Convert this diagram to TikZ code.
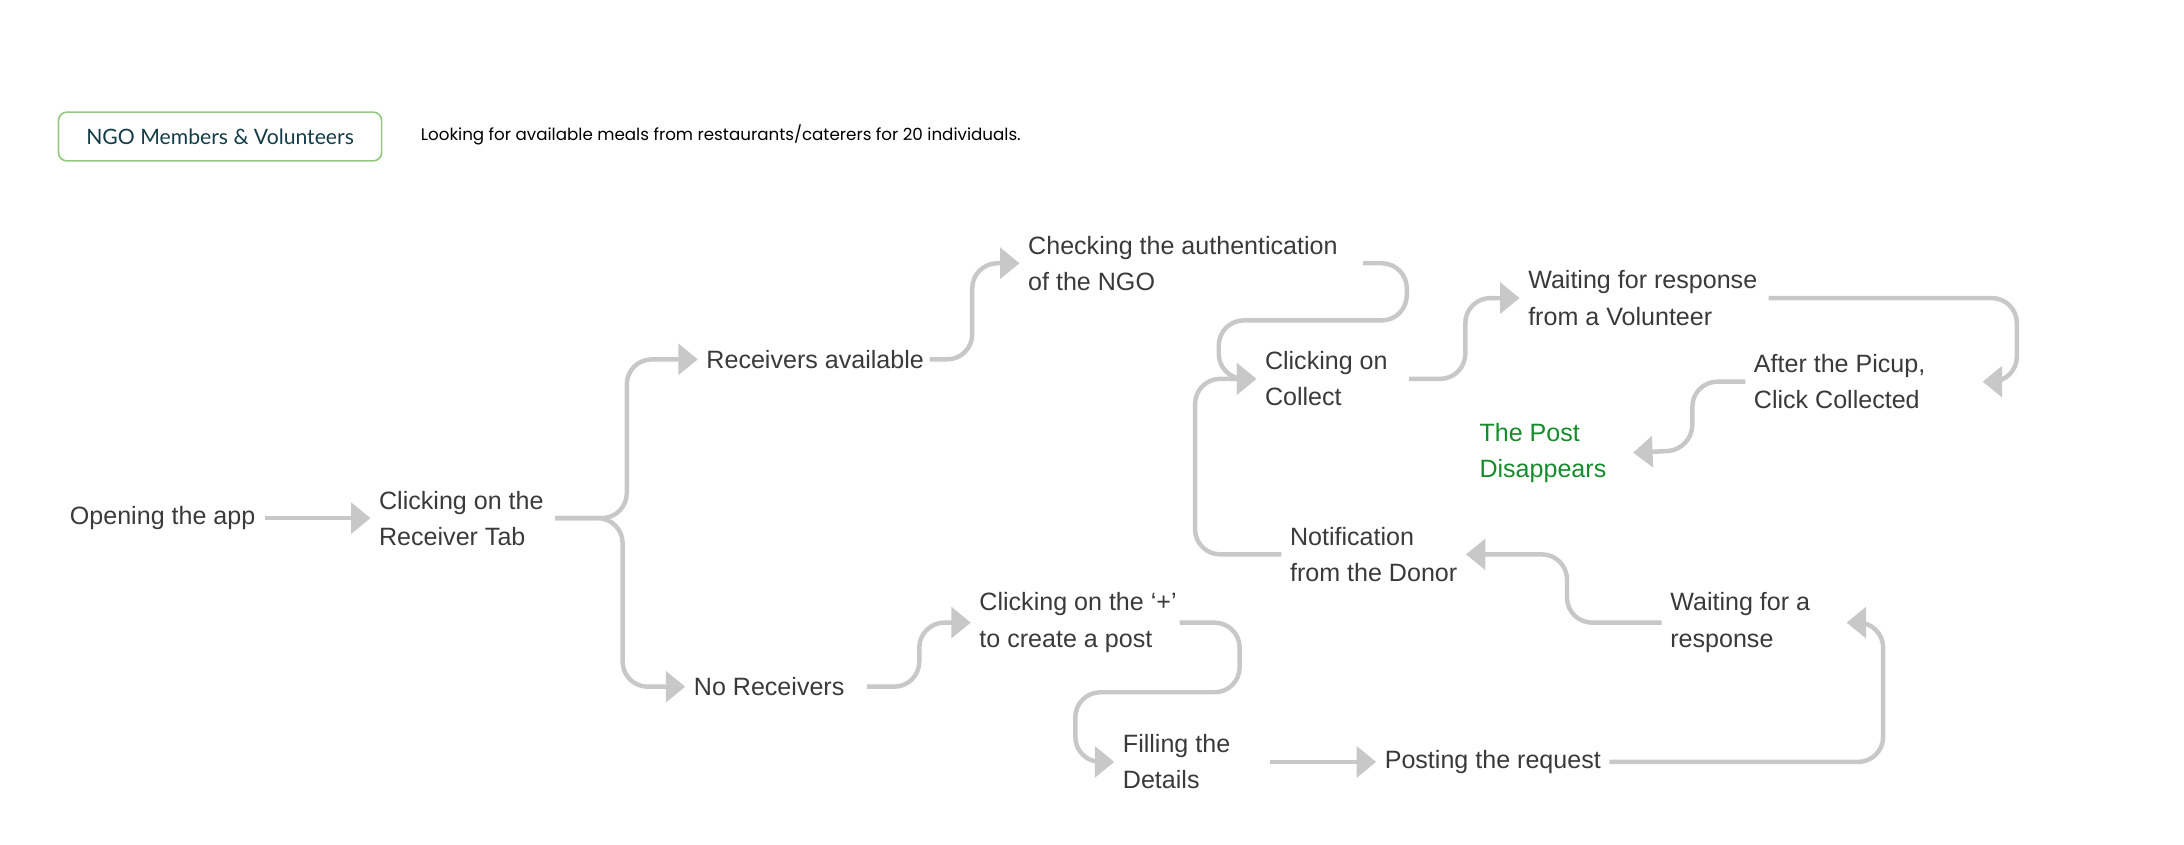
\documentclass[tikz,border=0pt]{standalone}
\usepackage{fontspec}
\setmainfont{Liberation Sans}
\newfontfamily\popfont{Poppins}
\newfontfamily\tagfont{Lato}
\usetikzlibrary{arrows.meta}

\definecolor{flowgray}{RGB}{200,200,200}
\definecolor{textgray}{RGB}{58,58,58}
\definecolor{postgreen}{RGB}{22,140,44}
\definecolor{boxgreen}{RGB}{150,200,130}
\definecolor{boxtext}{RGB}{20,60,70}

\begin{document}
\begin{tikzpicture}[x=1pt, y=-1pt,
    stage/.style={anchor=west, inner sep=0pt, align=left, text=textgray,
        font=\fontsize{18}{26}\selectfont},
    flow/.style={draw=flowgray, line width=3.2pt, rounded corners=18pt,
        -{Triangle[length=14pt, width=22pt]}},
]
    \useasboundingbox (0,0) rectangle (1568,606);

    % header
    \node[draw=boxgreen, line width=1.2pt, rounded corners=6pt, minimum width=232pt,
        minimum height=35pt, text=boxtext, font=\tagfont\fontsize{15.2}{18}\selectfont]
        (who) at (158,98) {NGO Members \& Volunteers};
    \node[anchor=west, inner sep=0pt, font=\popfont\fontsize{12}{14}\selectfont]
        (goal) at (302,97) {Looking for available meals from restaurants/caterers for 20 individuals.};

    % steps
    \node[stage] (open)    at (50,372)   {Opening the app};
    \node[stage] (tab)     at (272,372)  {Clicking on the\\Receiver Tab};
    \node[stage] (avail)   at (507,258)  {Receivers available};
    \node[stage] (auth)    at (738,189)  {Checking the authentication\\of the NGO};
    \node[stage] (collect) at (908,272)  {Clicking on\\Collect};
    \node[stage] (wait)    at (1097,214) {Waiting for response\\from a Volunteer};
    \node[stage] (picup)   at (1259,274) {After the Picup,\\Click Collected};
    \node[stage, text=postgreen] (gone) at (1062,325) {The Post\\Disappears};
    \node[stage] (norec)   at (498,493)  {No Receivers};
    \node[stage] (plus)    at (703,447)  {Clicking on the `+'\\to create a post};
    \node[stage] (fill)    at (806,547)  {Filling the\\Details};
    \node[stage] (post)    at (994,547)  {Posting the request};
    \node[stage] (waitr)   at (1199,447) {Waiting for a\\response};
    \node[stage] (notif)   at (926,398)  {Notification\\from the Donor};

    % connectors
    \draw[flow] ([xshift=7pt]open.east) -- ([xshift=-6pt]tab.west);
    \draw[flow] ([xshift=8pt]tab.east) -- (450,372) -- (450,258) -- ([xshift=-6pt]avail.west);
    \draw[flow] ([xshift=8pt]tab.east) -- (447,372) -- (447,493) -- ([xshift=-6pt]norec.west);
    \draw[flow] ([xshift=4pt]avail.east) -- (698,258) -- (698,189) -- ([xshift=-6pt]auth.west);
    \draw[flow] ([xshift=18pt]auth.east) -- (1010,189) -- (1010,230) -- (875,230) -- (875,272) -- ([xshift=-6pt]collect.west);
    \draw[flow] ([xshift=15pt]collect.east) -- (1052,272) -- (1052,214) -- ([xshift=-6pt]wait.west);
    \draw[flow] ([xshift=8pt]wait.east) -- (1448,214) -- (1448,274) -- ([xshift=41pt]picup.east);
    \draw[flow] ([xshift=-6pt]picup.west) -- (1215,274) -- (1215,323) -- ([xshift=19pt]gone.east);
    \draw[flow] ([xshift=16pt]norec.east) -- (660,493) -- (660,447) -- ([xshift=-6pt]plus.west);
    \draw[flow] ([xshift=2pt]plus.east) -- (890,447) -- (890,497) -- (772,497) -- (772,547) -- ([xshift=-6pt]fill.west);
    \draw[flow] ([xshift=28pt]fill.east) -- ([xshift=-6pt]post.west);
    \draw[flow] ([xshift=6pt]post.east) -- (1352,547) -- (1352,447) -- ([xshift=26pt]waitr.east);
    \draw[flow] ([xshift=-6pt]waitr.west) -- (1125,447) -- (1125,398) -- ([xshift=6pt]notif.east);
    \draw[flow] ([xshift=-6pt]notif.west) -- (858,398) -- (858,272) -- ([xshift=-6pt]collect.west);
\end{tikzpicture}
\end{document}
